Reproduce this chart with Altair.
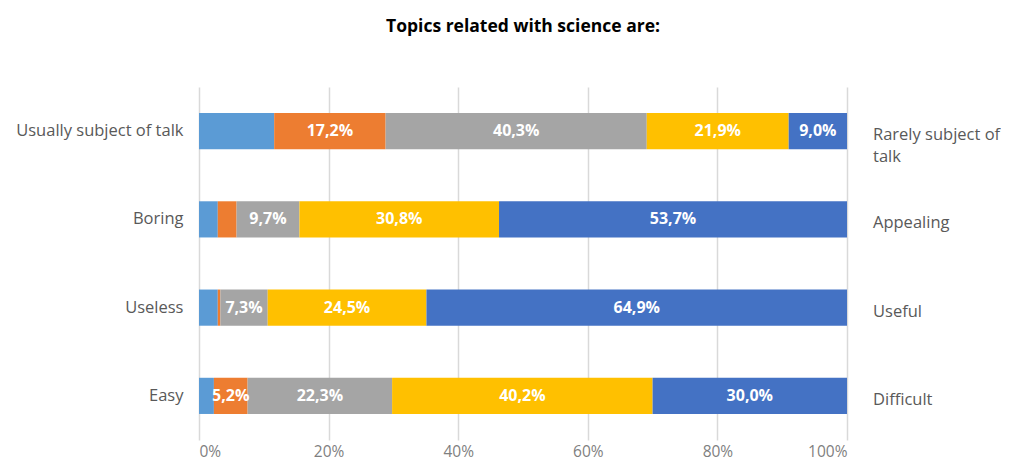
import altair as alt
import pandas as pd

categories = ["Usually subject of talk", "Boring", "Useless", "Easy"]
right_labels = ["Rarely subject of\ntalk", "Appealing", "Useful", "Difficult"]
series = ["1", "2", "3", "4", "5"]
colors = ["#5B9BD5", "#ED7D31", "#A5A5A5", "#FFC000", "#4472C4"]

s1 = [11.6, 2.9, 2.9, 2.3]
s2 = [17.2, 2.9, 0.4, 5.2]
s3 = [40.3, 9.7, 7.3, 22.3]
s4 = [21.9, 30.8, 24.5, 40.2]
s5 = [9.0, 53.7, 64.9, 30.0]

l1 = ["", "", "", ""]
l2 = ["17,2%", "", "", "5,2%"]
l3 = ["40,3%", "9,7%", "7,3%", "22,3%"]
l4 = ["21,9%", "30,8%", "24,5%", "40,2%"]
l5 = ["9,0%", "53,7%", "64,9%", "30,0%"]

tick_values = [0, 0.2, 0.4, 0.6, 0.8, 1.0]

rows = []
for si, (name, vals, labs) in enumerate(zip(series, [s1, s2, s3, s4, s5], [l1, l2, l3, l4, l5])):
    for cat, v, lab in zip(categories, vals, labs):
        rows.append({"category": cat, "series": name, "order": si, "value": v / 100.0, "label": lab})
df = pd.DataFrame(rows)
right_df = pd.DataFrame({"category": categories, "right": right_labels})

FONT = "Open Sans"

y_enc = alt.Y(
    "category:N",
    sort=categories,
    scale=alt.Scale(paddingInner=0.59, paddingOuter=0.295),
    axis=alt.Axis(title=None, ticks=False, domain=False, labelColor="#595959",
                  labelFontSize=16.5, labelPadding=16, grid=False, labelFont=FONT),
)

bars = alt.Chart(df).mark_bar().encode(
    x=alt.X("value:Q", stack="zero",
            scale=alt.Scale(domain=[0, 1], nice=False),
            axis=alt.Axis(title=None, values=tick_values, format=".0%", grid=True,
                          gridColor="#D9D9D9", gridWidth=1.5, domain=False, ticks=False,
                          labelColor="#7F7F7F", labelFontSize=15.5, labelPadding=4,
                          labelFont=FONT)),
    y=y_enc,
    color=alt.Color("series:N", scale=alt.Scale(domain=series, range=colors), legend=None),
    order=alt.Order("order:Q"),
)

texts = alt.Chart(df).transform_stack(
    stack="value", groupby=["category"], as_=["v0", "v1"],
    sort=[alt.SortField("order", order="ascending")],
).transform_calculate(
    mid="(datum.v0 + datum.v1) / 2"
).mark_text(color="white", fontSize=16, fontWeight="bold", font=FONT).encode(
    x=alt.X("mid:Q"),
    y=alt.Y("category:N", sort=categories),
    text="label:N",
)

right = alt.Chart(right_df).mark_text(
    align="left", baseline="middle", fontSize=16.5, color="#595959", font=FONT,
    lineBreak="\n", lineHeight=22, dy=4,
).encode(
    x=alt.value(674),
    y=alt.Y("category:N", sort=categories),
    text="right:N",
)

chart = alt.layer(bars, texts, right).properties(
    width=648,
    height=353,
    title=alt.TitleParams("Topics related with science are:", fontSize=17.5, fontWeight="bold",
                          color="#000000", anchor="middle", offset=52, font=FONT),
    autosize=alt.AutoSizeParams(type="none"),
    padding={"left": 191, "top": 79, "right": 154, "bottom": 20},
).configure_view(stroke=None)

chart.save("out.html", embed_options={"renderer": "svg", "actions": False})
